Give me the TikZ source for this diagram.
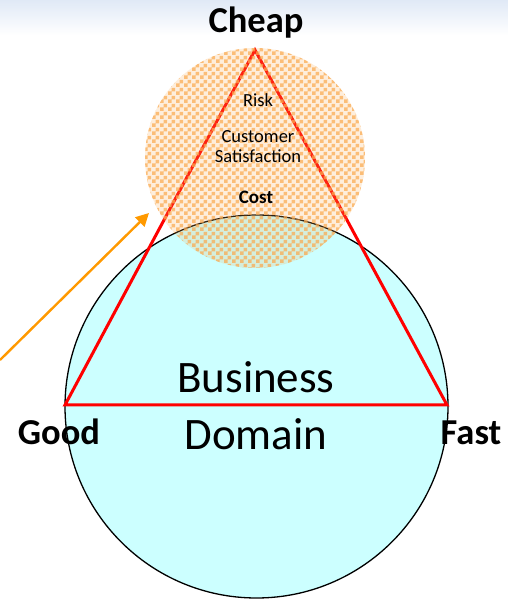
\documentclass[tikz,border=0pt]{standalone}
\usepackage{fontspec}
\setmainfont{Carlito}
\usetikzlibrary{arrows.meta,patterns}
\definecolor{cyanfill}{RGB}{204,255,255}
\definecolor{ochk}{RGB}{250,170,80}
\definecolor{arrowor}{RGB}{255,153,0}
\definecolor{bandblue}{RGB}{224,233,246}
\definecolor{trired}{RGB}{255,0,0}
\pgfdeclarepatternformonly{ochecks}{\pgfqpoint{0pt}{0pt}}{\pgfqpoint{8pt}{8pt}}{\pgfqpoint{8pt}{8pt}}{%
  \pgfpathrectangle{\pgfqpoint{0pt}{0pt}}{\pgfqpoint{4pt}{4pt}}%
  \pgfpathrectangle{\pgfqpoint{4pt}{4pt}}{\pgfqpoint{4pt}{4pt}}%
  \pgfusepath{fill}}
\tikzset{
  lbl/.style={inner sep=0pt, anchor=base, text=black},
  big/.style={lbl, font=\fontsize{36.5}{40}\selectfont\bfseries},
  dom/.style={lbl, font=\fontsize{45}{50}\selectfont},
  small/.style={lbl, font=\fontsize{18.5}{22}\selectfont},
  tri/.style={draw=trired, line width=3pt, line join=miter},
}
\begin{document}
\begin{tikzpicture}[x=1pt,y=1pt]
\useasboundingbox (0,0) rectangle (508,599);
% top band
\shade[top color=bandblue, bottom color=white] (0,564) rectangle (508,599);
% business circle
\node[circle, draw=black, line width=1.3pt, fill=cyanfill, minimum size=383pt, inner sep=0pt] (bd) at (256.5,192.5) {};
% triangle
\coordinate (apex) at (255,549);
\coordinate (lv) at (65,194);
\coordinate (rv) at (447,194);
\draw[tri] (apex) -- (lv) -- (rv) -- cycle;
% checkered circle
\fill[ochk, opacity=0.2] (255,441) circle[radius=110];
\fill[pattern=ochecks, pattern color=ochk, opacity=0.72] (255,441) circle[radius=110];
\node[circle, minimum size=220pt, inner sep=0pt] (cc) at (255,441) {};
% arrow
\coordinate (astart) at (0,239);
\coordinate (aend) at (149,386);
\draw[arrowor, line width=2.4pt, -{Triangle[length=13pt,width=13pt]}] (astart) -- (aend);
% labels
\node[big] (cheap) at (256,566) {Cheap};
\node[big] (good) at (59,154) {Good};
\node[big] (fast) at (471,154) {Fast};
\node[small] (risk) at (258,492) {Risk};
\node[small] (cust) at (258,456) {Customer};
\node[small] (sat) at (258,436) {Satisfaction};
\node[small, font=\fontsize{19}{22}\selectfont\bfseries] (cost) at (256,395) {Cost};
\node[dom] (bus) at (256,206) {Business};
\node[dom] (domn) at (256,149) {Domain};
\end{tikzpicture}
\end{document}
